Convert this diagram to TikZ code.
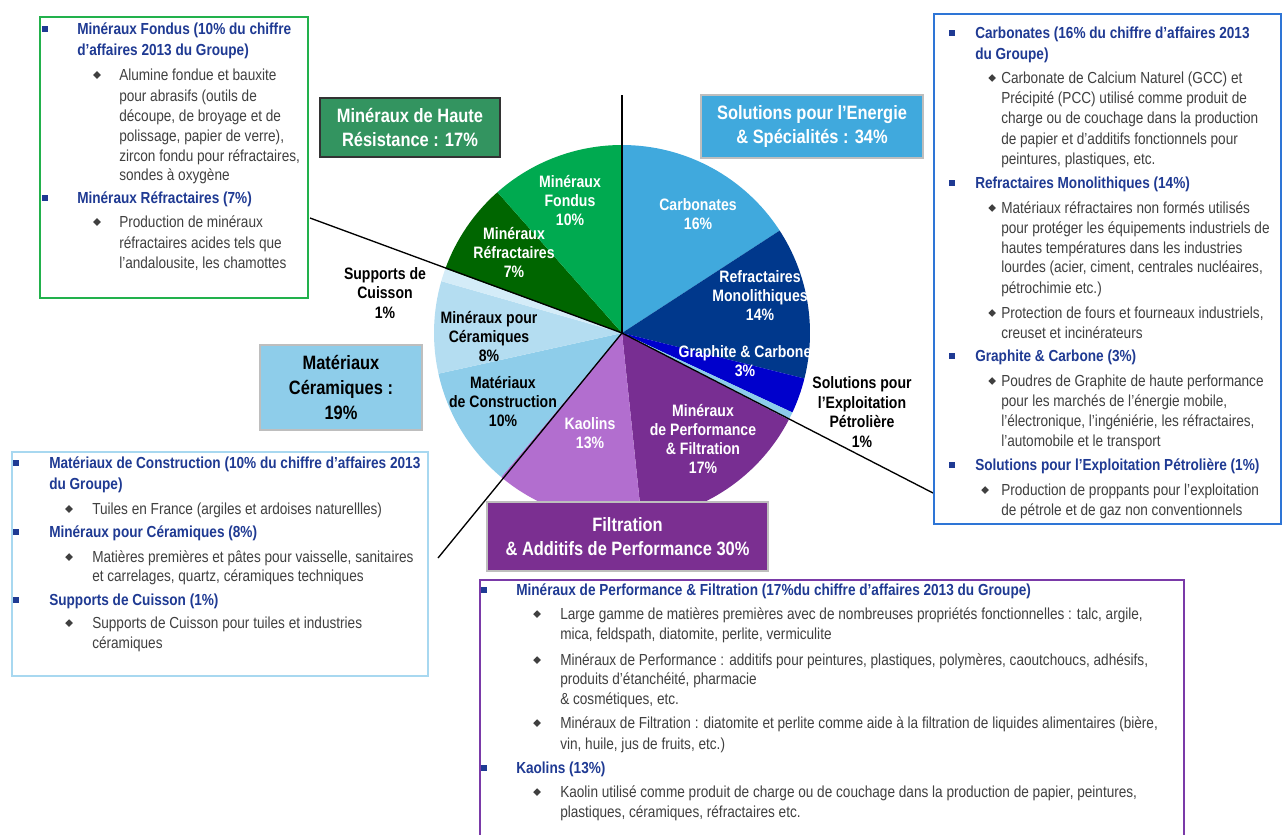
\documentclass[tikz,border=0pt]{standalone}
\usepackage{fontspec}
\setmainfont{Liberation Sans}[FakeStretch=0.85]
\usetikzlibrary{shapes.geometric}
\definecolor{cCarb}{RGB}{64,169,221}
\definecolor{cRefr}{RGB}{0,56,140}
\definecolor{cGraph}{RGB}{0,0,204}
\definecolor{cOil}{RGB}{140,205,235}
\definecolor{cPerf}{RGB}{120,46,146}
\definecolor{cKao}{RGB}{178,110,207}
\definecolor{cCons}{RGB}{142,205,234}
\definecolor{cCera}{RGB}{180,221,241}
\definecolor{cSupp}{RGB}{212,236,248}
\definecolor{cMRef}{RGB}{0,102,0}
\definecolor{cFond}{RGB}{0,170,80}
\definecolor{hGreen}{RGB}{51,148,96}
\definecolor{hBlue}{RGB}{64,169,221}
\definecolor{hLight}{RGB}{142,205,234}
\definecolor{hPurple}{RGB}{123,47,145}
\definecolor{bGreen}{RGB}{34,177,76}
\definecolor{bBlue}{RGB}{46,117,214}
\definecolor{bLight}{RGB}{168,216,240}
\definecolor{bPurple}{RGB}{122,58,168}
\definecolor{tBlue}{RGB}{31,58,147}
\definecolor{tGray}{RGB}{64,64,64}
\definecolor{hBorder}{RGB}{190,190,190}
\tikzset{
  ttl/.style={anchor=base west, inner sep=0pt, text=tBlue, font=\bfseries\fontsize{12}{14}\selectfont},
  bdy/.style={anchor=base west, inner sep=0pt, text=tGray, font=\fontsize{12}{14}\selectfont},
  sq/.style={rectangle, fill=tBlue, minimum size=5.2pt, inner sep=0pt},
  dm/.style={diamond, fill=tGray, minimum width=5.8pt, minimum height=5.8pt, inner sep=0pt},
  hdr/.style={rectangle, align=center, inner sep=0pt, line width=1.2pt, font=\bfseries\fontsize{14.5}{18.5}\selectfont},
  lbl/.style={align=center, inner sep=0pt, text=white, font=\bfseries\fontsize{12.4}{14.25}\selectfont},
  olbl/.style={align=center, inner sep=0pt, text=black, font=\bfseries\fontsize{12.4}{14.6}\selectfont},
  tbox/.style={line width=1.6pt},
  sep/.style={draw=black, line width=1pt},
}
\begin{document}
\begin{tikzpicture}[x=0.75pt,y=-0.75pt]
\useasboundingbox (0,0) rectangle (1282,835);
\fill[white] (0,0) rectangle (1282,835);

% ---------- pie ----------
\coordinate (O) at (622,333);
\def\R{188}
\foreach \a/\b/\c in {-90/-33/cCarb, -33/14/cRefr, 14/25/cGraph, 25/27.5/cOil, 27.5/84/cPerf, 84/130/cKao, 130/167.5/cCons, 167.5/196/cCera, 196/200/cSupp, 200/228.5/cMRef, 228.5/270/cFond}
  \fill[\c] (O) -- ++(\a:\R) arc[start angle=\a, end angle=\b, radius=\R] -- cycle;

% separator lines
\coordinate (lTop) at (622,95);
\coordinate (lLeft) at (310,218);
\coordinate (lRight) at (933,493);
\coordinate (lBot) at (438,558);
\draw[sep] (lTop) -- (O);
\draw[sep] (lLeft) -- (O);
\draw[sep] (O) -- (lRight);
\draw[sep] (O) -- (lBot);

% pie labels
\node[lbl] (pFond) at (570,201) {Minéraux\\Fondus\\10\%};
\node[lbl] (pMRef) at (514,252) {Minéraux\\Réfractaires\\7\%};
\node[lbl] (pCarb) at (698,214.5) {Carbonates\\16\%};
\node[lbl] (pRefr) at (760,296) {Refractaires\\Monolithiques\\14\%};
\node[lbl] (pGraph) at (745,361) {Graphite \& Carbone\\3\%};
\node[lbl] (pPerf) at (703,439) {Minéraux\\de Performance\\\& Filtration\\17\%};
\node[lbl] (pKao) at (590,433.5) {Kaolins\\13\%};
\node[lbl, text=black] (pCons) at (503,402) {Matériaux\\de Construction\\10\%};
\node[lbl, text=black] (pCera) at (489,337) {Minéraux pour\\Céramiques\\8\%};
\node[olbl] (pSupp) at (385,293) {Supports de\\Cuisson\\1\%};
\node[olbl] (pOil) at (862,412) {Solutions pour\\l’Exploitation\\Pétrolière\\1\%};

% ---------- header boxes ----------
\node[hdr, fill=hGreen, draw=black!80, text=white, minimum width=135pt, minimum height=44.25pt] (hHaute) at (410,127.5) {Minéraux de Haute\\Résistance : 17\%};
\node[hdr, fill=hBlue, draw=hBorder, text=white, minimum width=166.5pt, minimum height=47.25pt] (hSol) at (812,126.5) {Solutions pour l’Energie\\\& Spécialités : 34\%};
\node[hdr, fill=hLight, draw=hBorder, text=black, minimum width=121.5pt, minimum height=63.75pt] (hCera) at (341,387.5) {Matériaux\\Céramiques :\\19\%};
\node[hdr, fill=hPurple, draw=hBorder, text=white, minimum width=210.75pt, minimum height=51.75pt] (hFilt) at (627.5,536.5) {Filtration\\\& Additifs de Performance 30\%};

% ---------- green box ----------
\draw[tbox, bGreen] (40,17) rectangle (308,298);
\node[sq] (gs1) at (45,29) {};
\node[ttl] (gt1) at (77,34) {Minéraux Fondus (10\% du chiffre};
\node[ttl] (gt2) at (77,55) {d’affaires 2013 du Groupe)};
\node[dm] (gd1) at (97,75) {};
\node[bdy] (gb1) at (119,80) {Alumine fondue et bauxite};
\node[bdy] (gb2) at (119,101) {pour abrasifs (outils  de};
\node[bdy] (gb3) at (119,121) {découpe, de broyage et de};
\node[bdy] (gb4) at (119,141) {polissage, papier de verre),};
\node[bdy] (gb5) at (119,161) {zircon fondu pour réfractaires,};
\node[bdy] (gb6) at (119,180) {sondes à oxygène};
\node[sq] (gs2) at (45,198) {};
\node[ttl] (gt3) at (77,203) {Minéraux Réfractaires (7\%)};
\node[dm] (gd2) at (97,222) {};
\node[bdy] (gb7) at (119,227) {Production de minéraux};
\node[bdy] (gb8) at (119,248) {réfractaires  acides tels que};
\node[bdy] (gb9) at (119,268) {l’andalousite, les chamottes};

% ---------- right blue box ----------
\draw[tbox, bBlue] (934,14) rectangle (1281,524);
\node[sq] (rs1) at (952,33) {};
\node[ttl] (rt1) at (975,38) {Carbonates (16\% du chiffre d’affaires 2013};
\node[ttl] (rt2) at (975,59) {du Groupe)};
\node[dm] (rd1) at (992,78) {};
\node[bdy] (rb1) at (1001,83) {Carbonate de Calcium Naturel (GCC) et};
\node[bdy] (rb2) at (1001,103) {Précipité (PCC) utilisé  comme produit de};
\node[bdy] (rb3) at (1001,123) {charge ou de couchage dans la production};
\node[bdy] (rb4) at (1001,144) {de papier et d’additifs  fonctionnels pour};
\node[bdy] (rb5) at (1001,164) {peintures, plastiques, etc.};
\node[sq] (rs2) at (952,183) {};
\node[ttl] (rt3) at (975,188) {Refractaires Monolithiques (14\%)};
\node[dm] (rd2) at (992,208) {};
\node[bdy] (rb6) at (1001,213) {Matériaux réfractaires non formés utilisés};
\node[bdy] (rb7) at (1001,233) {pour protéger les équipements industriels de};
\node[bdy] (rb8) at (1001,253) {hautes températures dans les industries};
\node[bdy] (rb9) at (1001,272) {lourdes (acier, ciment, centrales nucléaires,};
\node[bdy] (rb10) at (1001,293) {pétrochimie etc.)};
\node[dm] (rd3) at (992,313) {};
\node[bdy] (rb11) at (1001,318) {Protection de fours et fourneaux industriels,};
\node[bdy] (rb12) at (1001,338) {creuset et incinérateurs};
\node[sq] (rs3) at (952,356) {};
\node[ttl] (rt4) at (975,361) {Graphite \& Carbone (3\%)};
\node[dm] (rd4) at (992,381) {};
\node[bdy] (rb13) at (1001,386) {Poudres de Graphite de haute performance};
\node[bdy] (rb14) at (1001,406) {pour les marchés de l’énergie mobile,};
\node[bdy] (rb15) at (1001,426) {l’électronique, l’ingéniérie, les réfractaires,};
\node[bdy] (rb16) at (1001,446) {l’automobile et le transport};
\node[sq] (rs4) at (952,465) {};
\node[ttl] (rt5) at (975,470) {Solutions pour l’Exploitation Pétrolière (1\%)};
\node[dm] (rd5) at (985,490) {};
\node[bdy] (rb17) at (1001,495) {Production de proppants pour l’exploitation};
\node[bdy] (rb18) at (1001,515) {de pétrole et de gaz non conventionnels};

% ---------- light blue box ----------
\draw[tbox, bLight] (12,452) rectangle (428,676);
\node[sq] (ls1) at (16,463) {};
\node[ttl] (lt1) at (49,468) {Matériaux de Construction (10\% du chiffre d’affaires 2013};
\node[ttl] (lt2) at (49,489) {du Groupe)};
\node[dm] (ld1) at (69,509) {};
\node[bdy] (lb1) at (92,514) {Tuiles en France (argiles et ardoises naturellles)};
\node[sq] (ls2) at (16,532) {};
\node[ttl] (lt3) at (49,537) {Minéraux pour Céramiques (8\%)};
\node[dm] (ld2) at (69,557) {};
\node[bdy] (lb2) at (92,562) {Matières premières et pâtes pour vaisselle, sanitaires};
\node[bdy] (lb3) at (92,581) {et carrelages, quartz, céramiques techniques};
\node[sq] (ls3) at (16,600) {};
\node[ttl] (lt4) at (49,605) {Supports de Cuisson (1\%)};
\node[dm] (ld3) at (69,623) {};
\node[bdy] (lb4) at (92,628) {Supports de Cuisson pour tuiles et industries};
\node[bdy] (lb5) at (92,648) {céramiques};

% ---------- purple box ----------
\draw[tbox, bPurple, line width=1.9pt] (480,580) rectangle (1184,850);
\node[sq] (ps1) at (484,590) {};
\node[ttl] (pt1) at (516,595) {Minéraux de Performance \& Filtration (17\%du chiffre d’affaires 2013 du Groupe)};
\node[dm] (pd1) at (537,614) {};
\node[bdy] (pb1) at (560,619) {Large gamme de matières premières avec de nombreuses propriétés fonctionnelles : talc, argile,};
\node[bdy] (pb2) at (560,639) {mica, feldspath, diatomite, perlite,  vermiculite};
\node[dm] (pd2) at (537,660) {};
\node[bdy] (pb3) at (560,665) {Minéraux de Performance : additifs  pour peintures, plastiques, polymères, caoutchoucs, adhésifs,};
\node[bdy] (pb4) at (560,684) {produits d’étanchéité, pharmacie};
\node[bdy] (pb5) at (560,704) {\& cosmétiques, etc.};
\node[dm] (pd3) at (537,723) {};
\node[bdy] (pb6) at (560,728) {Minéraux de Filtration  : diatomite  et perlite  comme aide à la filtration  de liquides alimentaires (bière,};
\node[bdy] (pb7) at (560,749) {vin, huile, jus de fruits,  etc.)};
\node[sq] (ps2) at (484,768) {};
\node[ttl] (pt2) at (516,773) {Kaolins (13\%)};
\node[dm] (pd4) at (537,792) {};
\node[bdy] (pb8) at (560,797) {Kaolin utilisé  comme produit de charge ou de couchage dans la production de papier, peintures,};
\node[bdy] (pb9) at (560,817) {plastiques, céramiques, réfractaires etc.};
\end{tikzpicture}
\end{document}
